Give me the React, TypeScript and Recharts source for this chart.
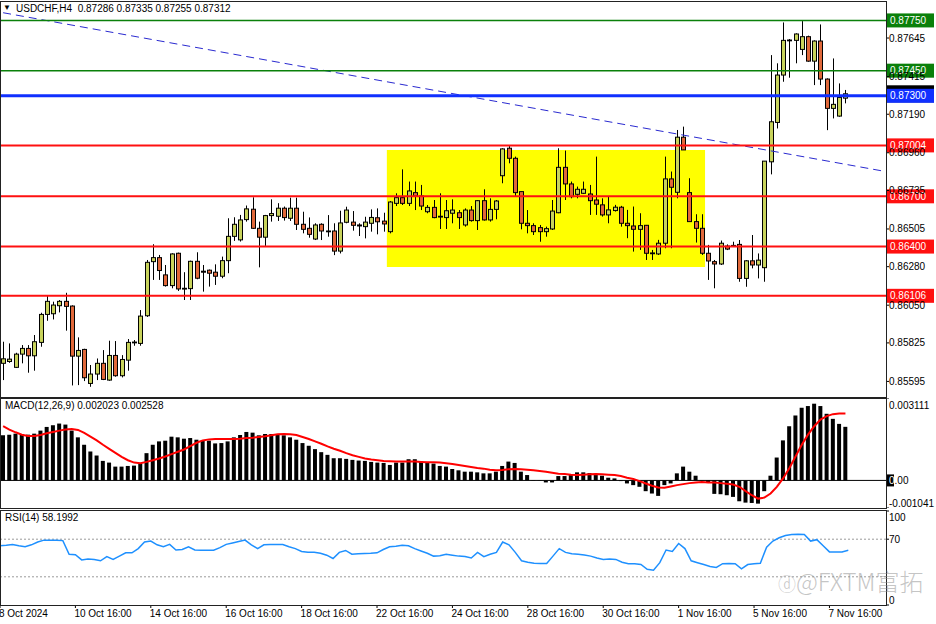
import React from 'react';
import { ComposedChart, Bar, Line, XAxis, YAxis, ReferenceLine, ReferenceArea } from 'recharts';

// USDCHF H4 candles, 8 Oct 16:00 .. 8 Nov 04:00
const OPEN = [
  0.85703, 0.85714, 0.85679, 0.85758, 0.85792, 0.85748, 0.85828, 0.85995, 0.85999, 0.86047,
  0.86073, 0.86045, 0.85746, 0.85786, 0.85583, 0.85639, 0.85703, 0.85603, 0.8575, 0.85629,
  0.85722, 0.85828, 0.85822, 0.85987, 0.8631, 0.86334, 0.86231, 0.86167, 0.8636, 0.86149,
  0.86149, 0.86312, 0.86253, 0.86259, 0.86247, 0.86223, 0.86316, 0.86461, 0.8644, 0.86561,
  0.86623, 0.86509, 0.86456, 0.86585, 0.86581, 0.86629, 0.86569, 0.86629, 0.86533, 0.86509,
  0.86445, 0.86533, 0.86493, 0.86493, 0.86373, 0.86545, 0.86546, 0.86529, 0.86519, 0.86539,
  0.86572, 0.86552, 0.86489, 0.86658, 0.86692, 0.86658, 0.86722, 0.86702, 0.86608, 0.86634,
  0.86581, 0.86573, 0.86599, 0.86602, 0.86529, 0.86618, 0.86555, 0.86674, 0.86559, 0.86622,
  0.86823, 0.86987, 0.86927, 0.86728, 0.86539, 0.86525, 0.86513, 0.86489, 0.86505, 0.86602,
  0.86873, 0.86774, 0.86712, 0.86718, 0.86714, 0.86678, 0.86649, 0.86589, 0.86615, 0.86635,
  0.86539, 0.86523, 0.86503, 0.86527, 0.86362, 0.86356, 0.8642, 0.86804, 0.86724, 0.87053,
  0.86722, 0.86549, 0.86509, 0.8636, 0.8631, 0.86296, 0.86403, 0.86405, 0.86413, 0.8621,
  0.86315, 0.8629, 0.86274, 0.86906, 0.87141, 0.87424, 0.87631, 0.87631, 0.87577, 0.87653,
  0.87507, 0.87627, 0.874, 0.87225, 0.87179, 0.87286,
];
const HIGH = [
  0.85832, 0.85822, 0.85766, 0.85812, 0.85812, 0.85872, 0.86005, 0.86106, 0.86071, 0.86081,
  0.86124, 0.86049, 0.85858, 0.8579, 0.85693, 0.85732, 0.85782, 0.85838, 0.85836, 0.85752,
  0.85848, 0.85842, 0.86021, 0.8632, 0.86414, 0.8635, 0.8629, 0.8636, 0.86364, 0.86247,
  0.86316, 0.86366, 0.8629, 0.86263, 0.86294, 0.8634, 0.86569, 0.86575, 0.86589, 0.86645,
  0.86694, 0.86549, 0.86589, 0.86682, 0.86659, 0.86639, 0.86692, 0.86692, 0.86608, 0.86574,
  0.86539, 0.86539, 0.86588, 0.86539, 0.86614, 0.86638, 0.86612, 0.86539, 0.86578, 0.86622,
  0.86628, 0.86602, 0.86672, 0.86718, 0.86861, 0.86788, 0.86788, 0.86768, 0.86648, 0.86678,
  0.86718, 0.86678, 0.86682, 0.86618, 0.86628, 0.86642, 0.86678, 0.86742, 0.86688, 0.86678,
  0.86987, 0.87, 0.86937, 0.86728, 0.86618, 0.86539, 0.86529, 0.86519, 0.86678, 0.86987,
  0.86973, 0.86788, 0.86758, 0.86788, 0.86768, 0.86937, 0.86688, 0.86698, 0.86649, 0.86643,
  0.86619, 0.86639, 0.86599, 0.86529, 0.8638, 0.8644, 0.86937, 0.86848, 0.87096, 0.87116,
  0.86808, 0.86593, 0.86593, 0.8641, 0.8632, 0.86436, 0.86413, 0.86429, 0.86439, 0.86319,
  0.86469, 0.86359, 0.8691, 0.87543, 0.87494, 0.87738, 0.87639, 0.87673, 0.87746, 0.87659,
  0.87631, 0.87726, 0.87404, 0.87523, 0.87374, 0.87335,
];
const LOW = [
  0.85603, 0.85706, 0.85675, 0.85703, 0.85647, 0.85659, 0.85802, 0.85957, 0.85965, 0.86007,
  0.85898, 0.85571, 0.85573, 0.85597, 0.85563, 0.85603, 0.85603, 0.85599, 0.85623, 0.85619,
  0.85659, 0.85808, 0.85808, 0.8598, 0.86201, 0.86201, 0.86161, 0.86151, 0.86135, 0.86081,
  0.86081, 0.86205, 0.86131, 0.86161, 0.86171, 0.86211, 0.86241, 0.86434, 0.8643, 0.86549,
  0.86505, 0.86276, 0.86404, 0.86549, 0.86553, 0.86555, 0.86553, 0.86499, 0.86479, 0.86453,
  0.86439, 0.86439, 0.86459, 0.86349, 0.86359, 0.86539, 0.86495, 0.86463, 0.86449, 0.86489,
  0.86473, 0.86489, 0.86479, 0.86642, 0.86648, 0.86642, 0.86618, 0.86618, 0.86599, 0.86569,
  0.86505, 0.86505, 0.86539, 0.86505, 0.86519, 0.86549, 0.86499, 0.86555, 0.86549, 0.86563,
  0.86778, 0.86897, 0.86702, 0.86503, 0.86479, 0.86469, 0.86429, 0.86459, 0.86499, 0.86599,
  0.86678, 0.86688, 0.86688, 0.86714, 0.86589, 0.86589, 0.86579, 0.86539, 0.86609, 0.86519,
  0.8645, 0.8637, 0.8638, 0.8632, 0.8632, 0.8635, 0.8639, 0.8639, 0.86688, 0.86977,
  0.86549, 0.86424, 0.8635, 0.86201, 0.86151, 0.8629, 0.86379, 0.86399, 0.8619, 0.8616,
  0.8627, 0.8621, 0.8619, 0.86831, 0.87105, 0.87384, 0.87408, 0.87494, 0.87543, 0.87503,
  0.87364, 0.87364, 0.87095, 0.87165, 0.87175, 0.87255,
];
const CLOSE = [
  0.8573, 0.85728, 0.85758, 0.85792, 0.85748, 0.85832, 0.85995, 0.86073, 0.86051, 0.86073,
  0.86043, 0.85746, 0.8578, 0.85617, 0.85639, 0.85703, 0.85607, 0.8575, 0.85629, 0.85726,
  0.85828, 0.8583, 0.85985, 0.86306, 0.86334, 0.86257, 0.86167, 0.86356, 0.86147, 0.86151,
  0.86312, 0.86211, 0.86247, 0.86241, 0.86223, 0.86316, 0.86461, 0.86533, 0.86559, 0.86625,
  0.86509, 0.86456, 0.86585, 0.86597, 0.86629, 0.86573, 0.86629, 0.86533, 0.86503, 0.86473,
  0.86529, 0.86493, 0.86491, 0.86373, 0.86541, 0.86618, 0.86527, 0.86523, 0.86546, 0.86574,
  0.86548, 0.86535, 0.86666, 0.86692, 0.86658, 0.86732, 0.86702, 0.86642, 0.86634, 0.86573,
  0.86577, 0.86614, 0.86618, 0.86573, 0.86618, 0.86555, 0.86674, 0.86559, 0.86622, 0.86672,
  0.86983, 0.86927, 0.86722, 0.86539, 0.86525, 0.86489, 0.86489, 0.86507, 0.86612, 0.86873,
  0.86774, 0.86698, 0.86742, 0.86742, 0.86674, 0.86653, 0.86589, 0.86619, 0.86635, 0.86539,
  0.86525, 0.86503, 0.86525, 0.8636, 0.86358, 0.8642, 0.86804, 0.86754, 0.87053, 0.86977,
  0.86549, 0.86509, 0.8636, 0.86314, 0.86296, 0.8642, 0.86385, 0.86407, 0.8621, 0.86315,
  0.8629, 0.86319, 0.8691, 0.87145, 0.87424, 0.87631, 0.87633, 0.87669, 0.87653, 0.87507,
  0.87627, 0.874, 0.87225, 0.87249, 0.8729, 0.87312,
];

// MACD(12,26,9) histogram and signal
const MACD = [
  0.001702, 0.001727, 0.001765, 0.001753, 0.001727, 0.001765, 0.00188, 0.002019, 0.002083, 0.002146,
  0.002108, 0.00188, 0.001626, 0.001346, 0.001092, 0.00094, 0.000737, 0.000673, 0.000521, 0.000521,
  0.000546, 0.000559, 0.000635, 0.001029, 0.001346, 0.001473, 0.001499, 0.001651, 0.001626, 0.001575,
  0.0016, 0.001537, 0.001499, 0.001499, 0.001397, 0.00141, 0.001473, 0.001626, 0.001715, 0.001829,
  0.001803, 0.001702, 0.001753, 0.001753, 0.001727, 0.001702, 0.001626, 0.001537, 0.00141, 0.001308,
  0.001181, 0.001067, 0.000965, 0.000838, 0.000838, 0.000813, 0.000775, 0.000749, 0.000737, 0.000699,
  0.000673, 0.00066, 0.000584, 0.000673, 0.000673, 0.0008, 0.0008, 0.000711, 0.000673, 0.000635,
  0.000546, 0.000521, 0.000432, 0.000381, 0.00033, 0.00033, 0.000305, 0.000267, 0.000267, 0.00033,
  0.000546, 0.000711, 0.00066, 0.00033, 0.000203, -0.000013, 0.00001, -0.000076, -0.000076, 0.000165,
  0.000165, 0.000203, 0.000305, 0.000305, 0.000279, 0.000203, 0.000178, 0.000102, 0.000076, -0.000025,
  -0.000114, -0.000178, -0.000241, -0.000406, -0.000495, -0.000584, -0.000178, -0.000114, 0.000267, 0.000521,
  0.00033, 0.000178, 0.00001, -0.000076, -0.000508, -0.000521, -0.000559, -0.000622, -0.000787, -0.000838,
  -0.000851, -0.000876, -0.000406, 0.000178, 0.000864, 0.001511, 0.002045, 0.002451, 0.002743, 0.002807,
  0.002896, 0.002807, 0.002515, 0.002324, 0.002134, 0.002023,
];
const SIGNAL = [
  0.002045, 0.001918, 0.001816, 0.001727, 0.001676, 0.001676, 0.001715, 0.001778, 0.001829, 0.00188,
  0.001918, 0.001943, 0.001905, 0.001791, 0.001651, 0.001511, 0.001346, 0.001194, 0.001041, 0.000889,
  0.000762, 0.000673, 0.000648, 0.000699, 0.000762, 0.000826, 0.000902, 0.000991, 0.00108, 0.001168,
  0.001295, 0.001422, 0.001511, 0.001549, 0.001562, 0.001562, 0.001562, 0.001562, 0.001575, 0.0016,
  0.001613, 0.001638, 0.001664, 0.001702, 0.00174, 0.001753, 0.00174, 0.001715, 0.001638, 0.001562,
  0.001473, 0.001384, 0.001283, 0.001194, 0.001118, 0.001029, 0.000953, 0.000889, 0.000826, 0.000787,
  0.000762, 0.000737, 0.000724, 0.000711, 0.000711, 0.000711, 0.000711, 0.000699, 0.000686, 0.000686,
  0.000673, 0.000648, 0.000622, 0.000584, 0.000546, 0.000508, 0.00047, 0.000445, 0.000406, 0.000381,
  0.000394, 0.000419, 0.000432, 0.000419, 0.000406, 0.000381, 0.000356, 0.00033, 0.000292, 0.000254,
  0.000241, 0.000216, 0.000203, 0.000216, 0.000229, 0.000241, 0.000229, 0.000216, 0.000203, 0.000165,
  0.000102, 0.000051, -0.000025, -0.000114, -0.000203, -0.000267, -0.000279, -0.000229, -0.000178, -0.00014,
  -0.000102, -0.000076, -0.000064, -0.000076, -0.000076, -0.000102, -0.000127, -0.000152, -0.000241, -0.000406,
  -0.000559, -0.000686, -0.000648, -0.000495, -0.000241, 0.000076, 0.000457, 0.000902, 0.001346, 0.001727,
  0.002045, 0.002299, 0.002426, 0.002502, 0.002527, 0.002528,
];

// RSI(14)
const RSI = [
  63, 63.5, 64.4, 63, 62, 64, 67, 69, 69, 69,
  68.5, 54, 53.5, 48, 49, 48.5, 47, 51.5, 48.5, 52,
  55.5, 55.5, 60, 67, 68, 64, 62, 64.5, 58.5, 59,
  62, 58.5, 58.3, 58.3, 58.3, 61, 64.5, 66, 67.5, 69,
  64, 60, 64, 64.4, 64.4, 64.4, 62, 60, 57, 56,
  56, 55, 53, 49.5, 56, 58, 54, 54.5, 54.8, 55,
  55.5, 59, 62, 62.5, 63.5, 63, 60, 57.5, 55, 52,
  52.5, 54, 53, 52, 51.5, 50, 56, 51.5, 54, 56,
  67, 64, 56, 47, 45.5, 44.5, 44.2, 44.2, 52, 60,
  56, 54.5, 54, 53.2, 52, 50, 48.5, 49, 48.5, 45.5,
  44, 44, 43.2, 38, 37, 45, 58.5, 57, 65.4, 60,
  47, 45, 43, 41, 40, 44, 44.2, 44, 38.5, 43,
  44, 44.5, 61.5, 68, 71.5, 74, 75, 75.3, 75, 68,
  69.5, 63, 56.5, 56.5, 56.5, 58.2,
];

const EMPTY_SLOTS = 6;
const TICK_STEP = 12;
const X_LABELS = [
  '8 Oct 2024', '10 Oct 16:00', '14 Oct 16:00', '16 Oct 16:00', '18 Oct 16:00', '22 Oct 16:00',
  '24 Oct 16:00', '28 Oct 16:00', '30 Oct 16:00', '1 Nov 16:00', '5 Nov 16:00', '7 Nov 16:00',
];
const PRICE_TICKS = [0.87645, 0.87415, 0.8719, 0.8696, 0.86735, 0.86505, 0.8628, 0.8605, 0.85825, 0.85595];
const LEVELS = [
  { price: 0.8775, color: '#0a800a', width: 1.5 },
  { price: 0.8745, color: '#0a800a', width: 1.5 },
  { price: 0.873, color: '#1030ff', width: 3 },
  { price: 0.87004, color: '#ff1010', width: 2 },
  { price: 0.867, color: '#ff1010', width: 2 },
  { price: 0.864, color: '#ff1010', width: 2 },
  { price: 0.86106, color: '#ff1010', width: 2 },
];
const LAST_PRICE = 0.87312;
const TREND_START = 0.87796;
const TREND_END = 0.86851;
const BOX_FROM = 62;
const BOX_TO = 112;
const BOX_TOP = 0.86976;
const BOX_BOTTOM = 0.86278;
const MAIN_DOMAIN = [0.85502, 0.8786];
const MACD_TICKS = [0.003111, 0, -0.001041];
const RSI_TICKS = [100, 70, 0];

const FONT = "Tahoma, 'Liberation Sans', Arial, sans-serif";
const W = 936;
const AXIS_W = 50;
const BULL = '#c8d35c';
const BEAR = '#e0683a';

const rows: any[] = Array.from({ length: OPEN.length + EMPTY_SLOTS }, (_, i) =>
  i < OPEN.length
    ? {
        i,
        range: [LOW[i], HIGH[i]],
        open: OPEN[i],
        high: HIGH[i],
        low: LOW[i],
        close: CLOSE[i],
        macd: MACD[i],
        signal: SIGNAL[i],
        rsi: RSI[i],
      }
    : { i }
);
const lastIndex = rows.length - 1;
const xTicks = X_LABELS.map((_, k) => k * TICK_STEP);

const Candle = (props: any) => {
  const { x, y, width, height, payload } = props;
  if (!payload || payload.open == null || !isFinite(y) || !isFinite(height)) return <g />;
  const { open, close, high, low } = payload;
  const top = Math.min(y, y + height);
  const h = Math.abs(height);
  const toY = (v: number) => top + ((high - v) / (high - low)) * h;
  const cx = Math.round(x + width / 2) + 0.5;
  const yo = toY(open);
  const yc = toY(close);
  const bodyTop = Math.min(yo, yc);
  const bodyH = Math.max(Math.abs(yo - yc), 0.8);
  return (
    <g>
      <line x1={cx} x2={cx} y1={top} y2={top + h} stroke="#000" strokeWidth={1} />
      <rect x={cx - 2} y={bodyTop} width={4} height={bodyH} fill={close >= open ? BULL : BEAR} stroke="#000" strokeWidth={1} />
    </g>
  );
};

const PriceTag = ({ viewBox, text, color, tall }: any) => {
  if (!viewBox) return null;
  const x = viewBox.x + viewBox.width + 1;
  const y = viewBox.y;
  const hh = tall ? 8.5 : 7;
  return (
    <g>
      <rect x={x} y={y - hh} width={47} height={hh * 2} fill={color} />
      {text && (
        <text x={x + 3} y={y + 3.5} fill="#fff" fontSize={10} fontFamily={FONT}>
          {text}
        </text>
      )}
    </g>
  );
};

const PriceTick = ({ x, y, payload }: any) => (
  <text x={x} y={y + 3.5} fontSize={10} fontFamily={FONT} fill="#000" textAnchor="start">
    {Number(payload.value).toFixed(5)}
  </text>
);

const MacdTick = ({ x, y, payload }: any) => {
  const v = payload.value;
  if (v === 0) {
    return (
      <g>
        <rect x={x - 2} y={y - 6} width={7} height={12} fill="#000" />
        <text x={x} y={y + 4} fontSize={10} fontFamily={FONT} fill="#000" textAnchor="start">
          <tspan fill="#fff">0</tspan>.00
        </text>
      </g>
    );
  }
  const dy = v > 0 ? 10.5 : -1.5;
  return (
    <text x={x} y={y + dy} fontSize={10} fontFamily={FONT} fill="#000" textAnchor="start">
      {v.toFixed(6)}
    </text>
  );
};

const RsiTick = ({ x, y, payload }: any) => {
  const v = payload.value;
  const dy = v === 100 ? 9.5 : v === 0 ? -1.5 : 4;
  return (
    <text x={x} y={y + dy} fontSize={10} fontFamily={FONT} fill="#000" textAnchor="start">
      {v}
    </text>
  );
};

const DateTick = ({ x, y, payload }: any) => (
  <text x={x - 1} y={y + 7} fontSize={10} fontFamily={FONT} fill="#000" textAnchor="start">
    {X_LABELS[payload.value / TICK_STEP]}
  </text>
);

const frame = (top: number, height: number): React.CSSProperties => ({
  position: 'absolute',
  left: 0,
  top,
  width: W - AXIS_W + 1,
  height,
  boxSizing: 'border-box',
  border: '1px solid #222',
  pointerEvents: 'none',
});

const label: React.CSSProperties = {
  position: 'absolute',
  fontFamily: FONT,
  fontSize: 10,
  lineHeight: '12px',
  color: '#000',
  whiteSpace: 'pre',
};

export default function App() {
  return (
    <div style={{ position: 'fixed', left: 0, top: 0, width: W, height: 624, background: '#fff', overflow: 'hidden' }}>
      <div style={{ position: 'absolute', left: 0, top: 0 }}>
        <ComposedChart width={W} height={398} data={rows} margin={{ top: 2, right: 0, bottom: 1, left: 0 }} barCategoryGap="10%">
          <XAxis dataKey="i" type="category" hide />
          <YAxis
            orientation="right"
            width={AXIS_W}
            type="number"
            domain={MAIN_DOMAIN}
            allowDataOverflow
            ticks={PRICE_TICKS}
            interval={0}
            axisLine={false}
            tickSize={3}
            tickMargin={0}
            tickLine={{ stroke: '#000' }}
            tick={<PriceTick />}
          />
          <ReferenceArea x1={BOX_FROM} x2={BOX_TO} y1={BOX_BOTTOM} y2={BOX_TOP} fill="#ffff00" fillOpacity={1} stroke="none" />
          <Bar dataKey="range" shape={Candle} isAnimationActive={false} />
          <ReferenceLine
            segment={[{ x: 0, y: TREND_START }, { x: lastIndex, y: TREND_END }]}
            stroke="#2a2ad0"
            strokeWidth={1}
            strokeDasharray="8 5"
          />
          <ReferenceLine y={LAST_PRICE} stroke="none" label={<PriceTag color="#000" tall />} />
          {LEVELS.map((l) => (
            <ReferenceLine
              key={l.price}
              y={l.price}
              stroke={l.color}
              strokeWidth={l.width}
              label={<PriceTag text={l.price.toFixed(5)} color={l.color} />}
            />
          ))}
        </ComposedChart>
      </div>

      <div style={{ position: 'absolute', left: 0, top: 398 }}>
        <ComposedChart width={W} height={110} data={rows} margin={{ top: 0, right: 0, bottom: 0, left: 0 }} barCategoryGap="16%">
          <XAxis dataKey="i" type="category" hide />
          <YAxis
            orientation="right"
            width={AXIS_W}
            type="number"
            domain={[MACD_TICKS[2], MACD_TICKS[0]]}
            allowDataOverflow
            ticks={MACD_TICKS}
            interval={0}
            axisLine={false}
            tickSize={3}
            tickMargin={0}
            tickLine={{ stroke: '#000' }}
            tick={<MacdTick />}
          />
          <Bar dataKey="macd" fill="#000" isAnimationActive={false} />
          <ReferenceLine y={0} stroke="#000" strokeWidth={1} />
          <Line dataKey="signal" type="linear" stroke="#ff0000" strokeWidth={2} dot={false} isAnimationActive={false} />
        </ComposedChart>
      </div>

      <div style={{ position: 'absolute', left: 0, top: 510 }}>
        <ComposedChart width={W} height={114} data={rows} margin={{ top: 1, right: 0, bottom: 0, left: 0 }}>
          <XAxis
            dataKey="i"
            type="category"
            height={19}
            ticks={xTicks}
            interval={0}
            axisLine={false}
            tickSize={3}
            tickLine={{ stroke: '#000' }}
            tick={<DateTick />}
          />
          <YAxis
            orientation="right"
            width={AXIS_W}
            type="number"
            domain={[0, 100]}
            ticks={RSI_TICKS}
            interval={0}
            axisLine={false}
            tickSize={3}
            tickMargin={0}
            tickLine={{ stroke: '#000' }}
            tick={<RsiTick />}
          />
          <ReferenceLine y={70} stroke="#9a9a9a" strokeDasharray="2 2" />
          <ReferenceLine y={30} stroke="#9a9a9a" strokeDasharray="2 2" />
          <Line dataKey="rsi" type="linear" stroke="#1e90ff" strokeWidth={1.5} dot={false} isAnimationActive={false} />
        </ComposedChart>
      </div>

      <div style={frame(1, 397)} />
      <div style={frame(398, 111)} />
      <div style={frame(510, 96)} />

      <div style={{ ...label, left: 3, top: 2, fontSize: 8 }}>▼</div>
      <div style={{ ...label, left: 16, top: 3 }}>USDCHF,H4  0.87286 0.87335 0.87255 0.87312</div>
      <div style={{ ...label, left: 5, top: 400 }}>MACD(12,26,9) 0.002023 0.002528</div>
      <div style={{ ...label, left: 5, top: 512 }}>RSI(14) 58.1992</div>

      <div
        style={{
          position: 'absolute',
          left: 778,
          top: 563,
          fontFamily: "'Noto Sans CJK SC', 'Noto Sans', sans-serif",
          fontSize: 24,
          fontWeight: 300,
          color: 'rgba(140,140,140,0.5)',
          whiteSpace: 'pre',
          pointerEvents: 'none',
        }}
      >
        <span style={{ fontSize: 18 }}>ⓓ</span>@FXTM富拓
      </div>
    </div>
  );
}
